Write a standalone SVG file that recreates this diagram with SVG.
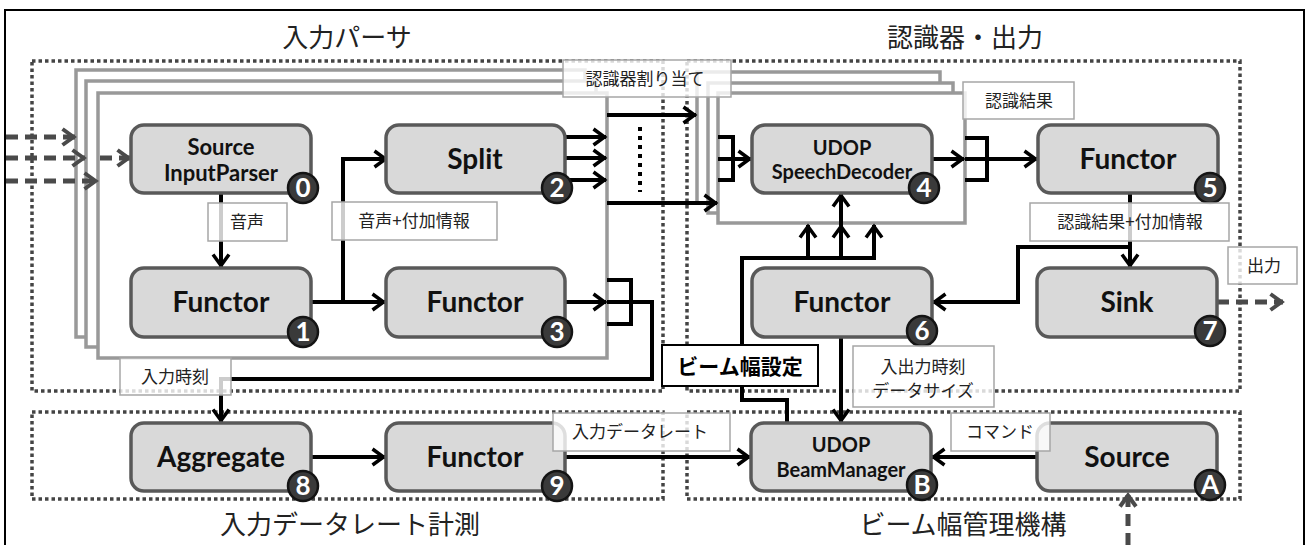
<svg xmlns="http://www.w3.org/2000/svg" width="1313" height="545" viewBox="0 0 1313 545">
<style>
.node{fill:#d9d9d9;stroke:#595959;stroke-width:3.5}
.badge{fill:#3a3a3a;stroke:#141414;stroke-width:2.5}
.bnum{font-family:Lato,"Liberation Sans",sans-serif;font-weight:700;font-size:26px;fill:#fff;text-anchor:middle}
.nt{font-family:Lato,"Liberation Sans",sans-serif;font-weight:700;font-size:28px;fill:#111;text-anchor:middle}
.ns{font-family:Lato,"Liberation Sans",sans-serif;font-weight:700;font-size:20px;fill:#111;text-anchor:middle}
.region{fill:none;stroke:#444;stroke-width:3.5;stroke-dasharray:3.5 3}
.stack{fill:#fff;stroke:#999;stroke-width:3.5}
.edge{fill:none;stroke:#000;stroke-width:4}
.dash{fill:none;stroke:#4a4a4a;stroke-width:5;stroke-dasharray:12 7}
.dots{fill:none;stroke:#000;stroke-width:4;stroke-dasharray:4 5}
.lbl{fill:#fff;fill-opacity:0.8;stroke:#a6a6a6;stroke-width:1.5}
.lt{font-family:"Noto Sans CJK JP",sans-serif;font-size:17px;fill:#222;text-anchor:middle}
.title{font-family:"Noto Sans CJK JP",sans-serif;font-size:26px;fill:#222;text-anchor:middle}
</style>
<defs>
<marker id="ah" viewBox="0 0 16 20" refX="14" refY="10" markerWidth="16" markerHeight="20" markerUnits="userSpaceOnUse" orient="auto"><path d="M1.5,2 L12.5,10 L1.5,18" fill="none" stroke="#000" stroke-width="3.5"/></marker>
<marker id="ahg" viewBox="0 0 16 20" refX="14" refY="10" markerWidth="16" markerHeight="20" markerUnits="userSpaceOnUse" orient="auto"><path d="M1.5,2 L12.5,10 L1.5,18" fill="none" stroke="#4a4a4a" stroke-width="4"/></marker>
</defs>
<rect width="1313" height="545" fill="#fff"/>
<rect x="5" y="10" width="1299" height="545" fill="none" stroke="#000" stroke-width="2"/>

<g id="titles">
<text class="title" x="347" y="47">入力パーサ</text>
<text class="title" x="965" y="47">認識器・出力</text>
<text class="title" x="350" y="534">入力データレート計測</text>
<text class="title" x="963" y="534">ビーム幅管理機構</text>
</g>

<g id="regions">
<rect class="region" x="32" y="61" width="631" height="330"/>
<rect class="region" x="687" y="61" width="553" height="330"/>
<rect class="region" x="32" y="412" width="631" height="87"/>
<rect class="region" x="687" y="412" width="553" height="87"/>
</g>

<g id="parser-stack">
<rect class="stack" x="76" y="70" width="509" height="267"/>
<rect class="stack" x="86" y="81" width="510" height="266"/>
<rect class="stack" x="98" y="93" width="509" height="265"/>
</g>
<g id="decoder-stack">
<rect class="stack" x="697" y="72" width="243" height="131"/>
<rect class="stack" x="708" y="83" width="245" height="130"/>
<rect class="stack" x="718" y="93" width="247" height="130"/>
</g>

<g id="connectors">
<path class="dash" d="M6,137 H75" marker-end="url(#ahg)"/>
<path class="dash" d="M6,158 H85" marker-end="url(#ahg)"/>
<path class="dash" d="M6,181 H97" marker-end="url(#ahg)"/>
<path class="dash" d="M100,158 H130" marker-end="url(#ahg)"/>
<path class="edge" d="M221,193 V267" marker-end="url(#ah)"/>
<path class="edge" d="M311,302 H385" marker-end="url(#ah)"/>
<path class="edge" d="M343,302 V159 H387" marker-end="url(#ah)"/>
<path class="edge" d="M565,137 H606" marker-end="url(#ah)"/>
<path class="edge" d="M565,158 H606" marker-end="url(#ah)"/>
<path class="edge" d="M565,180 H606" marker-end="url(#ah)"/>
<path class="edge" d="M607,115 H696" marker-end="url(#ah)"/>
<path class="edge" d="M607,203 H717" marker-end="url(#ah)"/>
<path class="dots" d="M640,127 V192"/>
<path class="edge" d="M565,302 H606" marker-end="url(#ah)"/>
<path class="edge" d="M607,280 H631 V324 H607"/>
<path class="edge" d="M607,302 H652 V379 H221 V422" marker-end="url(#ah)"/>
<path class="edge" d="M718,137 H733 V180 H718"/>
<path class="edge" d="M718,159 H751" marker-end="url(#ah)"/>
<path class="edge" d="M932,159 H964" marker-end="url(#ah)"/>
<path class="edge" d="M965,138 H987 V180 H965"/>
<path class="edge" d="M965,159 H1037" marker-end="url(#ah)"/>
<path class="edge" d="M1130,193 V267" marker-end="url(#ah)"/>
<path class="edge" d="M1130,247 H1018 V302 H933" marker-end="url(#ah)"/>
<path class="edge" d="M787,423 V400 H742 V258 H874"/>
<path class="edge" d="M808,258 V225" marker-end="url(#ah)"/>
<path class="edge" d="M841,258 V225" marker-end="url(#ah)"/>
<path class="edge" d="M841,226 V194" marker-end="url(#ah)"/>
<path class="edge" d="M874,260 V225" marker-end="url(#ah)"/>
<path class="edge" d="M841,337 V422" marker-end="url(#ah)"/>
<path class="edge" d="M311,457 H385" marker-end="url(#ah)"/>
<path class="edge" d="M564,457 H750" marker-end="url(#ah)"/>
<path class="edge" d="M1037,457 H932" marker-end="url(#ah)"/>
<path class="dash" d="M1217,302 H1283" marker-end="url(#ahg)"/>
<path class="dash" d="M1128,545 V494" marker-end="url(#ahg)"/>
</g>

<g id="n0">
<rect class="node" x="131" y="125" width="180" height="68" rx="13"/>
<text class="ns" x="221" y="155" style="font-size:22px">Source</text>
<text class="ns" x="221" y="181" style="font-size:22px">InputParser</text>
<circle class="badge" cx="303" cy="188" r="15"/><text class="bnum" x="303" y="197">0</text>
</g>
<g id="n1">
<rect class="node" x="131" y="268" width="180" height="69" rx="13"/>
<text class="nt" x="221" y="312">Functor</text>
<circle class="badge" cx="303" cy="332" r="15"/><text class="bnum" x="303" y="341">1</text>
</g>
<g id="n2">
<rect class="node" x="386" y="125" width="179" height="68" rx="13"/>
<text class="nt" x="475" y="169">Split</text>
<circle class="badge" cx="557" cy="188" r="15"/><text class="bnum" x="557" y="197">2</text>
</g>
<g id="n3">
<rect class="node" x="386" y="268" width="179" height="69" rx="13"/>
<text class="nt" x="475" y="312">Functor</text>
<circle class="badge" cx="557" cy="332" r="15"/><text class="bnum" x="557" y="341">3</text>
</g>
<g id="n4">
<rect class="node" x="752" y="125" width="180" height="68" rx="13"/>
<text class="ns" x="842" y="155">UDOP</text>
<text class="ns" x="842" y="179">SpeechDecoder</text>
<circle class="badge" cx="924" cy="188" r="15"/><text class="bnum" x="924" y="197">4</text>
</g>
<g id="n5">
<rect class="node" x="1038" y="125" width="180" height="68" rx="13"/>
<text class="nt" x="1128" y="169">Functor</text>
<circle class="badge" cx="1210" cy="188" r="15"/><text class="bnum" x="1210" y="197">5</text>
</g>
<g id="n6">
<rect class="node" x="752" y="268" width="180" height="69" rx="13"/>
<text class="nt" x="842" y="312">Functor</text>
<circle class="badge" cx="922" cy="331" r="15"/><text class="bnum" x="922" y="340">6</text>
</g>
<g id="n7">
<rect class="node" x="1037" y="268" width="180" height="69" rx="13"/>
<text class="nt" x="1127" y="312">Sink</text>
<circle class="badge" cx="1210" cy="331" r="15"/><text class="bnum" x="1210" y="340">7</text>
</g>
<g id="n8">
<rect class="node" x="131" y="423" width="180" height="68" rx="13"/>
<text class="nt" x="221" y="467">Aggregate</text>
<circle class="badge" cx="303" cy="486" r="15"/><text class="bnum" x="303" y="495">8</text>
</g>
<g id="n9">
<rect class="node" x="386" y="423" width="179" height="68" rx="13"/>
<text class="nt" x="475" y="467">Functor</text>
<circle class="badge" cx="557" cy="486" r="15"/><text class="bnum" x="557" y="495">9</text>
</g>
<g id="nB">
<rect class="node" x="751" y="423" width="180" height="68" rx="13"/>
<text class="ns" x="841" y="452">UDOP</text>
<text class="ns" x="841" y="477">BeamManager</text>
<circle class="badge" cx="922" cy="485" r="15"/><text class="bnum" x="922" y="494">B</text>
</g>
<g id="nA">
<rect class="node" x="1037" y="423" width="180" height="68" rx="13"/>
<text class="nt" x="1127" y="467">Source</text>
<circle class="badge" cx="1210" cy="485" r="15"/><text class="bnum" x="1210" y="494">A</text>
</g>

<g id="labels">
<rect class="lbl" x="563" y="60" width="168" height="37"/><text class="lt" x="645" y="85">認識器割り当て</text>
<rect class="lbl" x="963" y="82" width="111" height="37"/><text class="lt" x="1019" y="107">認識結果</text>
<rect class="lbl" x="208" y="203" width="79" height="38"/><text class="lt" x="247" y="228">音声</text>
<rect class="lbl" x="332" y="202" width="165" height="38"/><text class="lt" x="414" y="227">音声+付加情報</text>
<rect class="lbl" x="1030" y="203" width="199" height="38"/><text class="lt" x="1130" y="228">認識結果+付加情報</text>
<rect class="lbl" x="1228" y="247" width="69" height="37"/><text class="lt" x="1264" y="272">出力</text>
<rect class="lbl" x="120" y="358" width="111" height="37"/><text class="lt" x="175" y="383">入力時刻</text>
<rect x="662" y="345" width="156" height="41" fill="#fff" stroke="#000" stroke-width="2"/><text class="lt" x="740" y="374" style="font-size:21px;font-weight:700;fill:#000">ビーム幅設定</text>
<rect class="lbl" x="853" y="346" width="141" height="61"/><text class="lt" x="923" y="373">入出力時刻</text><text class="lt" x="923" y="397">データサイズ</text>
<rect class="lbl" x="553" y="413" width="177" height="38"/><text class="lt" x="640" y="438">入力データレート</text>
<rect class="lbl" x="951" y="413" width="99" height="38"/><text class="lt" x="1000" y="438">コマンド</text>
</g>
</svg>
